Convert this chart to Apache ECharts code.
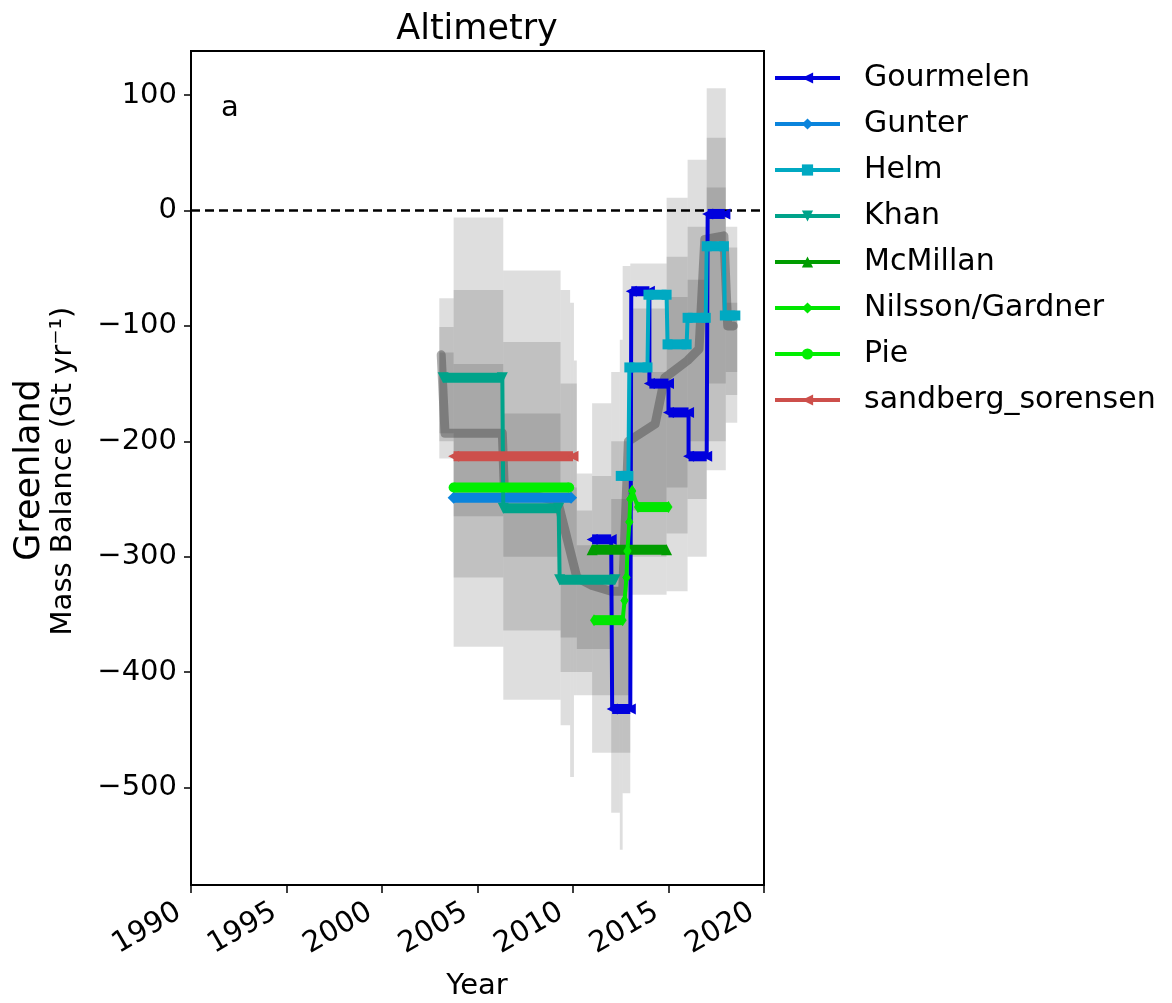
<!DOCTYPE html>
<html>
<head>
<meta charset="utf-8">
<script src="https://cdn.jsdelivr.net/npm/echarts@6/dist/echarts.min.js"></script>
<style>
  html, body { margin: 0; padding: 0; background: #ffffff; }
  #chart { width: 1172px; height: 1003px; }
</style>
</head>
<body>
<div id="chart"></div>
<script>
// Greenland mass balance from altimetry studies (Gt/yr), one step per period.
// Each period: [startYear, endYear, dM/dt]
const gourmelen = [[2011.0, 2012.0, -285], [2012.05, 2013.0, -432], [2013.05, 2014.0, -70], [2014.0, 2015.0, -150], [2015.0, 2016.05, -175], [2016.05, 2017.0, -213], [2017.05, 2017.95, -3]];
const gunter    = [[2003.75, 2009.9, -249]];
const helm      = [[2012.5, 2012.9, -230], [2012.95, 2013.9, -136], [2013.95, 2014.9, -73], [2014.95, 2015.95, -116], [2016.0, 2016.95, -93], [2017.0, 2017.9, -31], [2017.95, 2018.5, -91]];
const khan      = [[2003.2, 2006.3, -145], [2006.35, 2009.25, -258], [2009.3, 2012.2, -320]];
const mcmillan  = [[2011.0, 2014.9, -294]];
const nilsson   = [[2011.1, 2012.6, -355], [2012.7, 2012.7, -338], [2012.8, 2012.8, -318], [2012.85, 2012.85, -295], [2012.95, 2012.95, -270], [2013.0, 2013.0, -250], [2013.1, 2013.1, -243], [2013.4, 2015.0, -257]];
const pie       = [[2003.75, 2009.8, -240]];
const sandberg  = [[2003.75, 2010.0, -213]];

// Spread of the estimates: nested envelopes [startYear, endYear, low, high]
const spreadOuter = [
  [2003.0, 2003.75, -215, -76], [2003.75, 2006.35, -378, -6], [2006.35, 2009.35, -424, -52],
  [2009.35, 2009.85, -446, -69], [2009.85, 2010.05, -491, -80], [2010.05, 2010.2, -420, -130],
  [2010.2, 2011.0, -420, -228], [2011.0, 2012.0, -470, -167], [2012.0, 2012.45, -522, -140],
  [2012.45, 2012.6, -554, -112], [2012.6, 2013.0, -505, -48], [2013.0, 2014.9, -333, -46],
  [2014.9, 2016.0, -330, 11], [2016.0, 2017.0, -300, 44], [2017.0, 2018.0, -225, 106],
  [2018.0, 2018.6, -184, -14]
];
const spreadMiddle = [
  [2003.0, 2003.75, -200, -101], [2003.75, 2006.35, -318, -69], [2006.35, 2009.35, -364, -114],
  [2009.35, 2010.2, -400, -150], [2010.2, 2011.0, -400, -260], [2011.0, 2012.0, -420, -230],
  [2012.0, 2013.0, -470, -200], [2013.0, 2014.9, -300, -85], [2014.9, 2016.0, -280, -40],
  [2016.0, 2017.0, -250, -14], [2017.0, 2018.0, -200, 63], [2018.0, 2018.6, -160, -32]
];
const spreadInner = [
  [2003.0, 2003.75, -193, -123], [2003.75, 2006.35, -265, -133], [2006.35, 2009.35, -300, -176],
  [2009.35, 2010.2, -370, -240], [2010.2, 2012.0, -380, -290], [2012.0, 2013.0, -420, -250],
  [2013.0, 2014.9, -260, -140], [2014.9, 2016.0, -240, -75], [2016.0, 2017.0, -200, -60],
  [2017.0, 2018.0, -150, 20], [2018.0, 2018.6, -140, -80]
];
// Average of the estimates
const meanYears  = [2003.1, 2003.3, 2006.3, 2006.4, 2009.2, 2010.2, 2011.0, 2012.0, 2012.6, 2012.9, 2014.3, 2014.8, 2016.0, 2016.6, 2016.9, 2017.9, 2018.1, 2018.4];
const meanValues = [-125, -193, -193, -240, -252, -318, -325, -330, -330, -200, -185, -145, -130, -120, -25, -22, -100, -100];

const zeroLine = [[1990, 0], [2020, 0]];
const yearTicks = [1990, 1995, 2000, 2005, 2010, 2015, 2020];
const massTicks = [-500, -400, -300, -200, -100, 0, 100];

const FONT = 'DejaVu Sans';

const studies = [
  { name: 'Gourmelen',         data: gourmelen, color: '#0000dd', symbol: 'path://M0,5 L10,0 L10,10 Z', size: 11 },
  { name: 'Gunter',            data: gunter,    color: '#0a84dc', symbol: 'diamond', size: 12 },
  { name: 'Helm',              data: helm,      color: '#00a9c2', symbol: 'rect', size: 10 },
  { name: 'Khan',              data: khan,      color: '#00a38a', symbol: 'path://M0,0 L10,0 L5,10 Z', size: 11 },
  { name: 'McMillan',          data: mcmillan,  color: '#009c00', symbol: 'triangle', size: 11 },
  { name: 'Nilsson/Gardner',   data: nilsson,   color: '#00e600', symbol: 'diamond', size: [8, 12] },
  { name: 'Pie',               data: pie,       color: '#00ee00', symbol: 'circle', size: 10 },
  { name: 'sandberg_sorensen', data: sandberg,  color: '#cd4f4b', symbol: 'path://M0,5 L10,0 L10,10 Z', size: 11 }
];

function shadeSeries(name, data) {
  return {
    type: 'custom', name: name, z: 1, silent: true,
    data: data,
    renderItem: function (params, api) {
      const p0 = api.coord([api.value(0), api.value(3)]);
      const p1 = api.coord([api.value(1), api.value(2)]);
      return {
        type: 'rect',
        shape: { x: p0[0], y: p0[1], width: p1[0] - p0[0], height: p1[1] - p0[1] },
        style: { fill: 'rgba(0,0,0,0.13)' }
      };
    }
  };
}

const series = [
  shadeSeries('spread outer', spreadOuter),
  shadeSeries('spread middle', spreadMiddle),
  shadeSeries('spread inner', spreadInner),
  {
    type: 'line', name: 'mean', z: 2, silent: true, showSymbol: false,
    data: meanYears.map((y, i) => [y, meanValues[i]]),
    lineStyle: { width: 9, color: 'rgba(70,70,70,0.45)', join: 'round', cap: 'round' }
  },
  {
    type: 'line', name: 'zero', z: 3, silent: true, showSymbol: false,
    data: zeroLine,
    lineStyle: { width: 2.5, color: '#000', type: [9, 5] }
  }
];

studies.forEach((s, k) => {
  series.push({
    type: 'line', name: s.name, z: 4 + k,
    data: s.data.flatMap(p => [[p[0], p[2]], [p[1], p[2]]]),
    symbol: s.symbol, symbolSize: s.size, showSymbol: true,
    lineStyle: { width: 4, color: s.color },
    itemStyle: { color: s.color },
    emphasis: { disabled: true }
  });
  series.push({
    type: 'custom', name: s.name + ' span', z: 4 + k, silent: true,
    data: s.data,
    renderItem: function (params, api) {
      const a = api.coord([api.value(0), api.value(2)]);
      const b = api.coord([api.value(1), api.value(2)]);
      return {
        type: 'rect',
        shape: { x: a[0], y: a[1] - 5, width: b[0] - a[0], height: 10 },
        style: { fill: s.color }
      };
    }
  });
});

const chart = echarts.init(document.getElementById('chart'), null, { renderer: 'canvas' });
chart.setOption({
  animation: false,
  backgroundColor: '#ffffff',
  textStyle: { fontFamily: FONT },
  grid: { left: 191, top: 51, width: 573, height: 834, show: true, borderColor: '#000', borderWidth: 2, backgroundColor: 'transparent' },
  xAxis: {
    type: 'value', min: yearTicks[0], max: yearTicks[yearTicks.length - 1], interval: 5,
    axisLine: { show: true, onZero: false, lineStyle: { color: '#000', width: 2 } },
    axisTick: { show: true, length: 8, lineStyle: { color: '#000', width: 1.5 } },
    axisLabel: { rotate: 30, fontSize: 29, color: '#000', fontFamily: FONT, margin: 18, padding: [0, 14, 0, 0], formatter: v => String(v) },
    splitLine: { show: false }
  },
  yAxis: {
    type: 'value', min: -584.5, max: 138.2,
    axisLine: { show: true, onZero: false, lineStyle: { color: '#000', width: 2 } },
    axisTick: { show: true, length: 7, customValues: massTicks, lineStyle: { color: '#000', width: 1.5 } },
    axisLabel: { fontSize: 29, color: '#000', fontFamily: FONT, margin: 14, customValues: massTicks,
      formatter: v => (v < 0 ? '\u2212' + Math.abs(v) : String(v)) },
    splitLine: { show: false }
  },
  legend: {
    data: studies.map(s => s.name),
    orient: 'vertical', left: 773, top: 63, padding: 0,
    itemWidth: 65, itemHeight: 14, itemGap: 16,
    selectedMode: false,
    lineStyle: { width: 4 },
    textStyle: { fontSize: 30, color: '#000', fontFamily: FONT, lineHeight: 30, padding: [0, 0, 0, 19] }
  },
  graphic: [
    { type: 'text', x: 477, y: 30, style: { text: 'Altimetry', font: '35px "DejaVu Sans"', fill: '#000', align: 'center', verticalAlign: 'middle' } },
    { type: 'text', x: 221, y: 108, style: { text: 'a', font: '29px "DejaVu Sans"', fill: '#000', align: 'left', verticalAlign: 'middle' } },
    { type: 'text', x: 477, y: 986, style: { text: 'Year', font: '29px "DejaVu Sans"', fill: '#000', align: 'center', verticalAlign: 'middle' } },
    { type: 'text', x: 30, y: 470, rotation: Math.PI / 2, style: { text: 'Greenland', font: '35px "DejaVu Sans"', fill: '#000', align: 'center', verticalAlign: 'middle' } },
    { type: 'text', x: 63, y: 471, rotation: Math.PI / 2, style: { text: 'Mass Balance (Gt yr\u207B\u00B9)', font: '29px "DejaVu Sans"', fill: '#000', align: 'center', verticalAlign: 'middle' } }
  ],
  series: series
});
</script>
</body>
</html>
